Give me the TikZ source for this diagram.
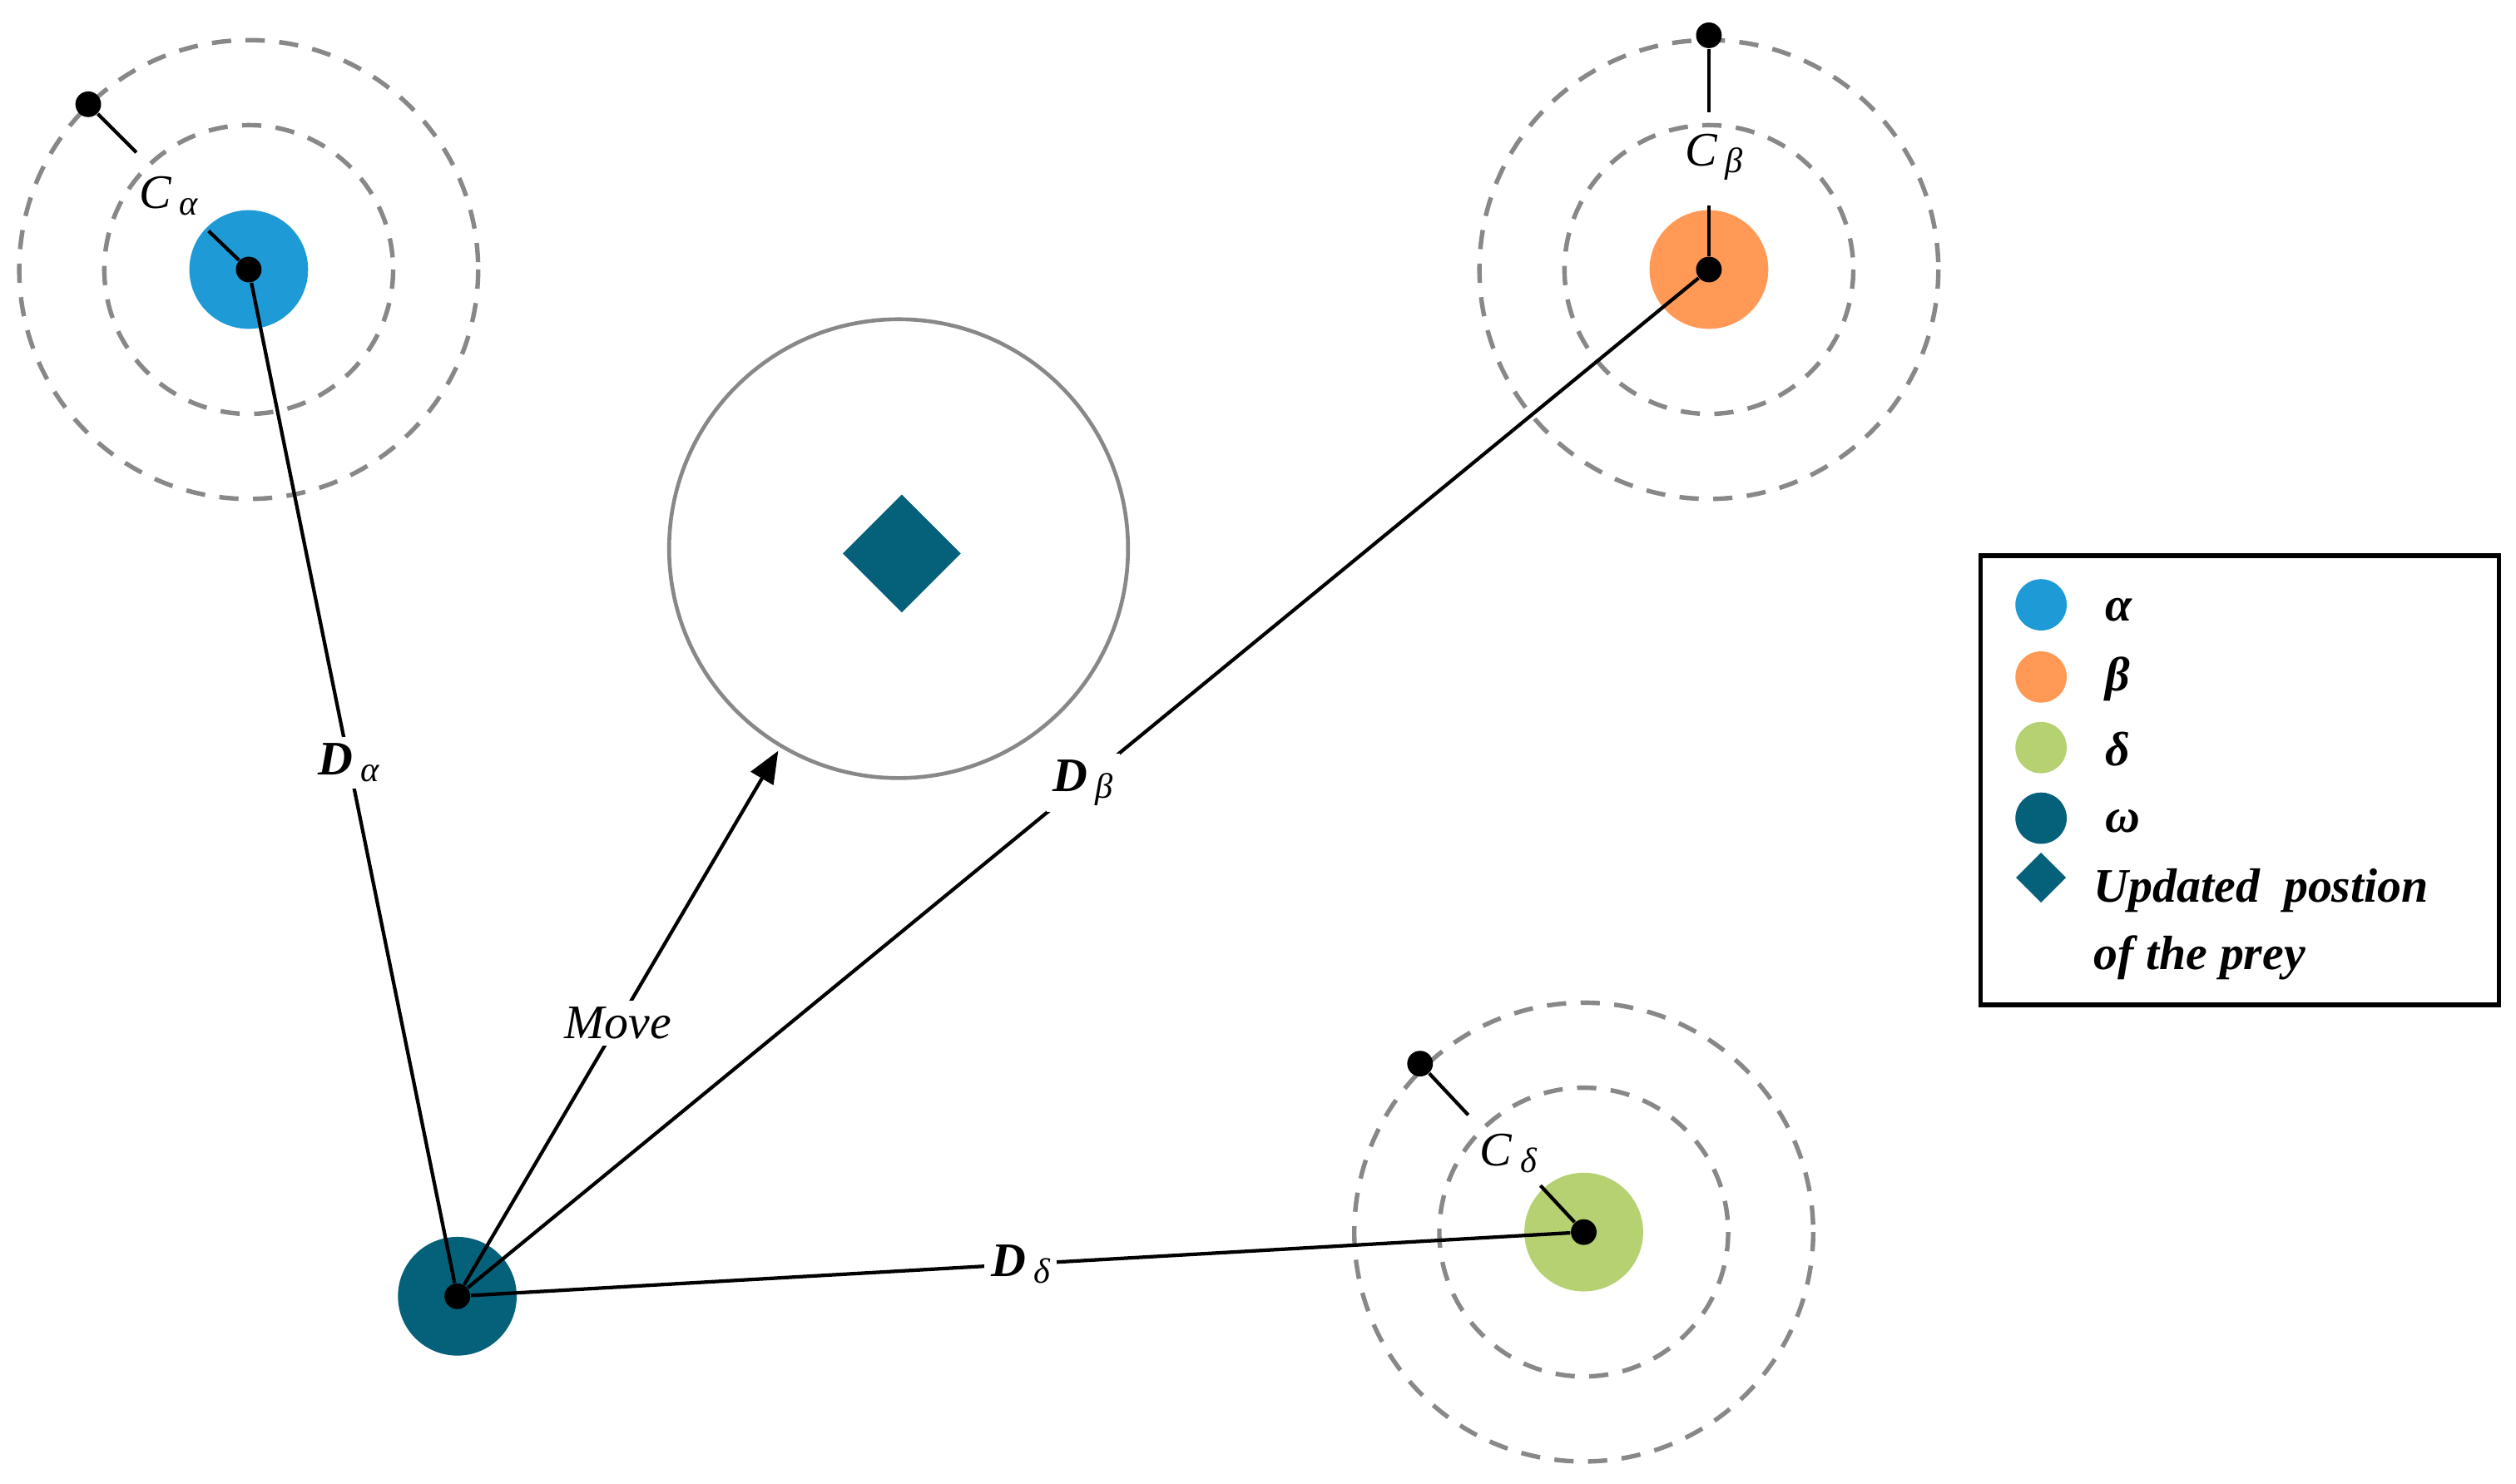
\documentclass[tikz,border=0pt]{standalone}
\usepackage{fontspec}
\setmainfont{Liberation Serif}
\usetikzlibrary{arrows.meta}
\definecolor{ca}{HTML}{1E9BD7}
\definecolor{cb}{HTML}{FF9955}
\definecolor{cd}{HTML}{B5D171}
\definecolor{cw}{HTML}{05607A}
\definecolor{dg}{HTML}{888888}
\newcommand{\subx}[1]{\,\raisebox{-2pt}{\fontsize{11}{12}\selectfont\itshape\mdseries #1}}
\begin{document}
\begin{tikzpicture}[x=0.5pt,y=-0.5pt,
  dring/.style={draw=dg,line width=1.4pt,dash pattern=on 6pt off 4.5pt},
  dot/.style={circle,fill=black,inner sep=0pt,minimum size=8pt},
  wolf/.style={circle,inner sep=0pt,minimum size=37pt},
  ln/.style={line width=1.1pt},
  lab/.style={font=\fontsize{15}{18}\selectfont\itshape,inner sep=1pt},
  dlab/.style={font=\fontsize{15}{18}\selectfont\bfseries\itshape,fill=white,inner sep=2pt},
  leg/.style={font=\fontsize{15}{21}\selectfont\bfseries\itshape,anchor=west,align=left}]
\useasboundingbox (0,0) rectangle (1568,925);
% alpha
\draw[dring] (155,168) circle (90); \draw[dring] (155,168) circle (143);
\node[wolf,fill=ca] (wa) at (155,168) {};
\node[dot] (ca) at (155,168) {};
\node[dot] (pa) at (55,65) {};
\coordinate (pa2) at (85,95);
\node[lab] (la) at (105,122) {C\subx{α}};
\coordinate (la2) at (130,144);
\draw[ln] (pa) -- (pa2); \draw[ln] (la2) -- (ca);
% beta
\draw[dring] (1065,168) circle (90); \draw[dring] (1065,168) circle (143);
\node[wolf,fill=cb] (wb) at (1065,168) {};
\node[dot] (cb) at (1065,168) {};
\node[dot] (pb) at (1065,22) {};
\coordinate (pb2) at (1065,70);
\node[lab] (lb) at (1068,98) {C\subx{β}};
\coordinate (lb2) at (1065,128);
\draw[ln] (pb) -- (pb2); \draw[ln] (lb2) -- (cb);
% delta
\draw[dring] (987,768) circle (90); \draw[dring] (987,768) circle (143);
\node[wolf,fill=cd] (wd) at (987,768) {};
\node[dot] (cd) at (987,768) {};
\node[dot] (pd) at (885,663) {};
\coordinate (pd2) at (915,695);
\node[lab] (ld) at (940,719) {C\subx{δ}};
\coordinate (ld2) at (960,739);
\draw[ln] (pd) -- (pd2); \draw[ln] (ld2) -- (cd);
% prey
\draw[draw=dg,line width=1.2pt] (560,342) circle (143);
\node[fill=cw,minimum size=26pt,inner sep=0pt,rotate=45] (prey) at (562,345) {};
\coordinate (mv) at (485,468);
% omega
\node[wolf,fill=cw] (ww) at (285,808) {};
\node[dot] (cw) at (285,808) {};
% connectors
\draw[ln] (cw) -- node[dlab,pos=0.52] {D\subx{α}} (ca);
\draw[ln] (cw) -- node[dlab,pos=0.5] {D\subx{β}} (cb);
\draw[ln] (cw) -- node[dlab,pos=0.5] {D\subx{δ}} (cd);
\draw[ln,-{Triangle[length=10pt,width=8pt]}] (cw) -- node[dlab,pos=0.49,font=\fontsize{15}{18}\selectfont\mdseries\itshape] {Move} (mv);
% legend
\node[draw,line width=1.4pt,minimum width=161.5pt,minimum height=140pt,anchor=north west,inner sep=0pt] (box) at (1233,345) {};
\node[circle,fill=ca,minimum size=16pt,inner sep=0pt] (l1) at (1272,377) {};
\node[circle,fill=cb,minimum size=16pt,inner sep=0pt] (l2) at (1272,422) {};
\node[circle,fill=cd,minimum size=16pt,inner sep=0pt] (l3) at (1272,466) {};
\node[circle,fill=cw,minimum size=16pt,inner sep=0pt] (l4) at (1272,510) {};
\node[fill=cw,minimum size=11pt,inner sep=0pt,rotate=45] (l5) at (1272,547) {};
\node[leg] (t1) at (1305,380) {α};
\node[leg] (t2) at (1305,423) {β};
\node[leg] (t3) at (1305,467) {δ};
\node[leg] (t4) at (1305,512) {ω};
\node[leg] (t5) at (1298,576) {Updated\ \ postion\\of the prey};
\end{tikzpicture}
\end{document}
